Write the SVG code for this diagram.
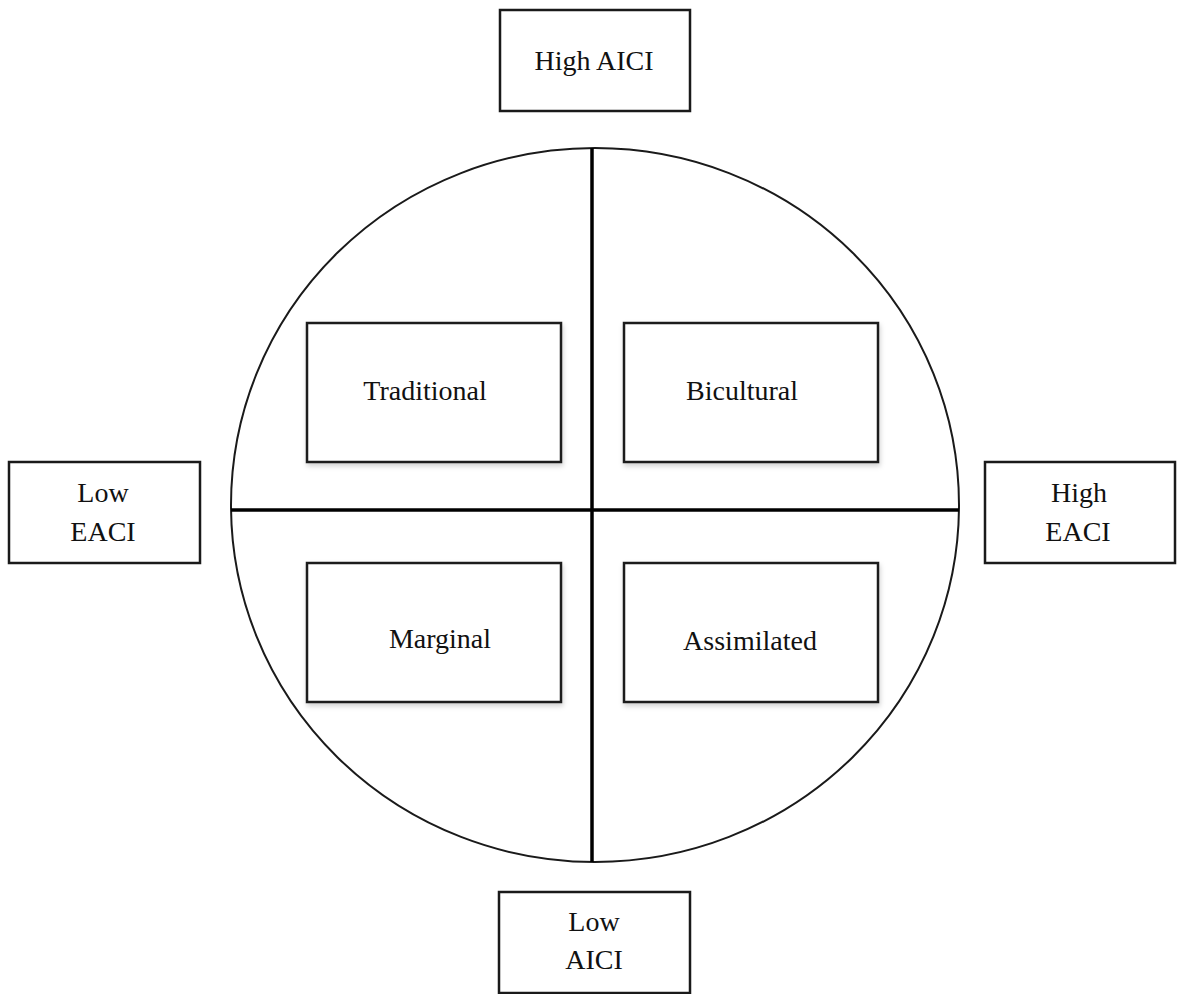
<svg xmlns="http://www.w3.org/2000/svg" width="1178" height="994" viewBox="0 0 1178 994">
<style>
.box{fill:#fff;stroke:#1a1a1a;stroke-width:2.5}
.inner{fill:#fff;stroke:#1a1a1a;stroke-width:2.5;filter:url(#sh)}
.t{font-family:"Liberation Serif","Times New Roman",serif;font-size:28px;fill:#111;text-anchor:middle}
.ax{stroke:#000;stroke-width:3.5;fill:none}
</style>
<defs>
<filter id="sh" x="-10%" y="-10%" width="130%" height="130%">
<feDropShadow dx="1" dy="3" stdDeviation="2.5" flood-color="#000" flood-opacity="0.18"/>
</filter>
</defs>
<rect width="1178" height="994" fill="#fff"/>
<g id="circle">
<ellipse cx="595" cy="505" rx="364" ry="357" fill="none" stroke="#1a1a1a" stroke-width="2"/>
</g>
<g id="connectors">
<line class="ax" x1="592" y1="148" x2="592" y2="862"/>
<line class="ax" x1="231" y1="510" x2="959" y2="510"/>
</g>
<g id="high-aici">
<rect class="box" x="500" y="10" width="190" height="101"/>
<text class="t" x="594" y="70">High AICI</text>
</g>
<g id="low-aici">
<rect class="box" x="499" y="892" width="191" height="101"/>
<text class="t" x="594" y="931">Low</text>
<text class="t" x="594" y="969">AICI</text>
</g>
<g id="low-eaci">
<rect class="box" x="9" y="462" width="191" height="101"/>
<text class="t" x="103" y="502">Low</text>
<text class="t" x="103" y="541">EACI</text>
</g>
<g id="high-eaci">
<rect class="box" x="985" y="462" width="190" height="101"/>
<text class="t" x="1079" y="502">High</text>
<text class="t" x="1078" y="541">EACI</text>
</g>
<g id="traditional">
<rect class="inner" x="307" y="323" width="254" height="139"/>
<text class="t" x="425" y="400">Traditional</text>
</g>
<g id="bicultural">
<rect class="inner" x="624" y="323" width="254" height="139"/>
<text class="t" x="742" y="400">Bicultural</text>
</g>
<g id="marginal">
<rect class="inner" x="307" y="563" width="254" height="139"/>
<text class="t" x="440" y="648">Marginal</text>
</g>
<g id="assimilated">
<rect class="inner" x="624" y="563" width="254" height="139"/>
<text class="t" x="750" y="650">Assimilated</text>
</g>
</svg>
